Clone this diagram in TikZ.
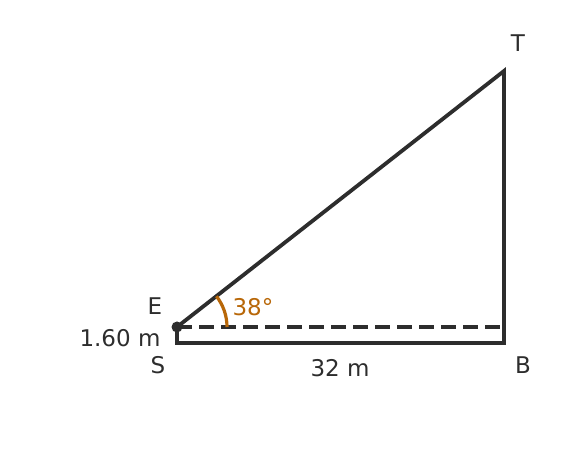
\documentclass[tikz,border=0pt]{standalone}
\usepackage{fontspec}
\setmainfont{DejaVu Sans}
\definecolor{inkgray}{RGB}{45,45,45}
\definecolor{anglecol}{RGB}{184,103,8}
\begin{document}
\begin{tikzpicture}[x=1pt,y=1pt,
					side/.style={draw=inkgray, line width=3.8pt, line join=miter},
					sightline/.style={draw=inkgray, line width=3.6pt, dash pattern=on 15pt off 7pt},
					anglearc/.style={draw=anglecol, line width=3.2pt}]
					\tikzstyle{every node}=[text=inkgray, inner sep=0pt, font=\fontsize{23}{27}\selectfont]
					
					\useasboundingbox (0,0) rectangle (576,455);
					
					\coordinate (E) at (177,128);
					\coordinate (S) at (177,112);
					\coordinate (B) at (504,112);
					\coordinate (T) at (504,384);
					\coordinate (D) at (504,128);
					
					\draw[side] (E) -- (S) -- (B) -- (T) -- cycle;
					\draw[sightline] (E) -- (D);
					\draw[anglearc] (E) ++(50,0) arc[start angle=0, end angle=38, radius=50];
					\fill[inkgray] (E) circle (5.5);
					
					\node (lT) at (518,412) {T};
					\node (lE) at (155,149) {E};
					\node (lS) at (158,90) {S};
					\node (lB) at (523,90) {B};
					\node (lh) at (120,117) {1.60 m};
					\node (ld) at (340,87) {32 m};
					\node[text=anglecol] (la) at (253,148) {38°};
					
				\end{tikzpicture}
\end{document}
